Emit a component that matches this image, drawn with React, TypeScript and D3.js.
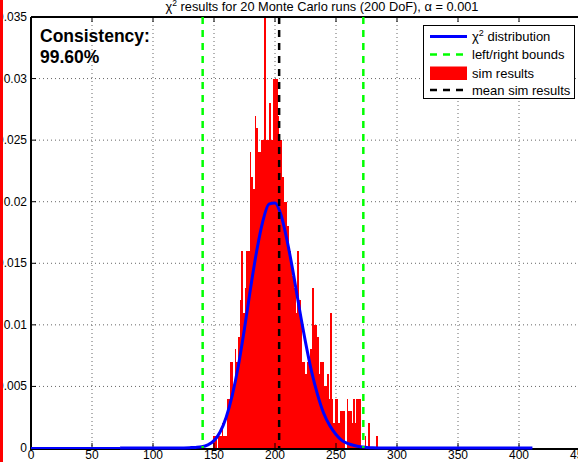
import React from 'react';
import * as d3 from 'd3';

const W = 578;
const H = 462;

// Axis extents (data units)
const xDomain = [0, 450];
const yDomain = [0, 0.035];

const xTickValues = [0, 50, 100, 150, 200, 250, 300, 350, 400, 450];
const yTickValues = [0, 0.005, 0.01, 0.015, 0.02, 0.025, 0.03, 0.035];
const yTickLabels = ['0', '0.005', '0.01', '0.015', '0.02', '0.025', '0.03', '0.035'];

// Histogram of simulated chi-square values (normalised density per bin)
const binStart = 149.5;
const binWidth = 1.348;
const simDensity = [
  0.001, 0.001, 0, 0.001, 0.001, 0.002, 0.001, 0.001, 0.004, 0.004,
  0.007, 0.007, 0.005, 0.008, 0.007, 0.009, 0.012, 0.016, 0.011, 0.013,
  0.016, 0.016, 0.024, 0.022, 0.021, 0.027, 0.026, 0.024, 0.024, 0.025,
  0.025, 0.035, 0.025, 0.025, 0.028, 0.025, 0.030, 0.030, 0.030, 0.027,
  0.025, 0.025, 0.022, 0.020, 0.020, 0.018, 0.016, 0.015, 0.014, 0.013,
  0.011, 0.016, 0.012, 0.010, 0.007, 0.007, 0.006, 0.007, 0.007, 0.008,
  0.013, 0.010, 0.010, 0.009, 0.006, 0.007, 0.007, 0.005, 0.005, 0.006,
  0.004, 0.011, 0.004, 0.002, 0.004, 0.004, 0.002, 0.003, 0.003, 0.003,
  0, 0.004, 0.003, 0.003, 0.002, 0.004, 0.002, 0.004, 0.004, 0.004,
  0, 0, 0.001, 0, 0.002, 0, 0, 0, 0, 0.001,
];

// Theoretical chi-square pdf (200 DoF)
const pdfX = [73, 100, 120, 130, 135, 140, 145, 150, 155, 160, 165, 170, 175, 180, 185, 190, 195, 200, 205, 210, 215, 220, 225, 230, 235, 240, 245, 250, 255, 260, 265, 270, 275, 280, 290, 300, 411];
const pdfY = [0, 0, 0.00001, 0.00003, 0.00005, 0.0001, 0.00026, 0.0006, 0.0013, 0.0025, 0.0043, 0.0067, 0.0097, 0.013, 0.016, 0.0184, 0.0198, 0.0199, 0.0189, 0.0168, 0.0142, 0.0113, 0.0086, 0.0062, 0.0043, 0.0028, 0.0018, 0.0011, 0.0006, 0.00035, 0.0002, 0.0001, 0.00005, 0.00002, 0, 0, 0];
const pdfTailStart = 0;

const boundLeft = 140.7;
const boundRight = 272.4;
const meanSim = 203.4;
const consistencyLabel = 'Consistency:';
const consistencyValue = '99.60%';

const legendItems = ['distribution', 'left/right bounds', 'sim results', 'mean sim results'];

const FONT = '"Liberation Sans", Arial, Helvetica, sans-serif';

export default function App() {
  const x = d3.scaleLinear().domain(xDomain).range([31, 580]);
  const y = d3.scaleLinear().domain(yDomain).range([448, 17]);
  const left = x.range()[0];
  const right = x.range()[1];
  const top = y.range()[1];
  const bottom = y.range()[0];

  const pdfPts: [number, number][] = pdfX.map((v, i) => [v, pdfY[i]]);
  const pdfLine = d3
    .line<[number, number]>()
    .x((d) => x(d[0]))
    .y((d) => y(d[1]))
    .curve(d3.curveMonotoneX);

  const dash = '7 6';

  return (
    <div style={{ position: 'absolute', left: 0, top: 0 }}>
      <svg width={W} height={H} style={{ display: 'block', fontFamily: FONT }}>
        <rect x={0} y={0} width={W} height={H} fill="#fff" />

        {/* grid */}
        <g stroke="#666" strokeWidth={1} strokeDasharray="1 3">
          {xTickValues
            .filter((v) => v > xDomain[0] && v < xDomain[1])
            .map((v) => (
              <line key={'gx' + v} x1={x(v)} x2={x(v)} y1={top} y2={bottom} />
            ))}
          {yTickValues
            .filter((v) => v > yDomain[0] && v < yDomain[1])
            .map((v) => (
              <line key={'gy' + v} x1={left} x2={right} y1={y(v)} y2={y(v)} />
            ))}
        </g>

        {/* histogram bars */}
        <g fill="#ff0000" shapeRendering="crispEdges">
          {simDensity.map((d, i) => {
            if (d <= 0) return null;
            const lo = binStart + i * binWidth;
            const hi = lo + binWidth;
            const yt = y(Math.min(d, yDomain[1]));
            return (
              <rect key={'b' + i} x={x(lo)} width={x(hi) - x(lo)} y={yt} height={bottom - yt} />
            );
          })}
        </g>

        {/* axes box */}
        <g stroke="#000" strokeWidth={2} fill="none">
          <line x1={left} x2={right + 2} y1={bottom + 1} y2={bottom + 1} />
          <line x1={left} x2={right + 2} y1={top} y2={top} />
          <line x1={left} x2={left} y1={top} y2={bottom + 2} />
        </g>
        <g stroke="#000" strokeWidth={1}>
          {xTickValues.map((v) => (
            <g key={'tx' + v}>
              <line x1={x(v)} x2={x(v)} y1={bottom} y2={bottom - 5} />
              <line x1={x(v)} x2={x(v)} y1={top} y2={top + 5} />
            </g>
          ))}
          {yTickValues.map((v) => (
            <line key={'ty' + v} x1={left} x2={left + 5} y1={y(v)} y2={y(v)} />
          ))}
        </g>

        {/* chi-square pdf */}
        <line
          x1={x(pdfTailStart)}
          x2={x(pdfX[0])}
          y1={y(0)}
          y2={y(0)}
          stroke="#0000ff"
          strokeWidth={2}
        />
        <path d={pdfLine(pdfPts) || ''} fill="none" stroke="#0000ff" strokeWidth={3} />

        {/* bounds and mean */}
        <g strokeWidth={2.5} strokeDasharray={dash}>
          <line x1={x(boundLeft)} x2={x(boundLeft)} y1={top} y2={bottom} stroke="#00ff00" />
          <line x1={x(boundRight)} x2={x(boundRight)} y1={top} y2={bottom} stroke="#00ff00" />
          <line x1={x(meanSim)} x2={x(meanSim)} y1={top} y2={bottom} stroke="#000" />
        </g>

        {/* tick labels */}
        <g fontSize={12} fill="#000">
          {xTickValues.map((v) => (
            <text key={'lx' + v} x={x(v)} y={459} textAnchor="middle">
              {v}
            </text>
          ))}
          {yTickValues.map((v, i) => (
            <text key={'ly' + v} x={27} y={y(v) + 4} textAnchor="end">
              {yTickLabels[i]}
            </text>
          ))}
        </g>

        {/* title */}
        <text x={322} y={11} fontSize={12.8} textAnchor="middle" fill="#000">
          χ<tspan dy={-5} fontSize={8.5}>2</tspan>
          <tspan dy={5}> results for 20 Monte Carlo runs (200 DoF), α = 0.001</tspan>
        </text>

        {/* consistency annotation */}
        <g fontSize={17.5} fontWeight="bold" fill="#000">
          <text x={40} y={42}>{consistencyLabel}</text>
          <text x={40} y={63}>{consistencyValue}</text>
        </g>

        {/* legend */}
        <g>
          <rect x={423.5} y={25.5} width={151} height={73} fill="#fff" stroke="#000" strokeWidth={1} />
          <line x1={430} x2={467} y1={36.5} y2={36.5} stroke="#0000ff" strokeWidth={3} />
          <line x1={430} x2={467} y1={54.5} y2={54.5} stroke="#00ff00" strokeWidth={2.5} strokeDasharray={dash} />
          <rect x={430} y={66.5} width={37} height={13.5} fill="#ff0000" />
          <line x1={430} x2={467} y1={90} y2={90} stroke="#000" strokeWidth={2.5} strokeDasharray={dash} />
          <g fontSize={13} fill="#000">
            <text x={472} y={41}>
              χ<tspan dy={-5} fontSize={9}>2</tspan>
              <tspan dy={5}> {legendItems[0]}</tspan>
            </text>
            <text x={472} y={59}>{legendItems[1]}</text>
            <text x={472} y={78}>{legendItems[2]}</text>
            <text x={472} y={95}>{legendItems[3]}</text>
          </g>
        </g>

        {/* left edge strip */}
        <rect x={0} y={0} width={3} height={H} fill="#ff0000" />
      </svg>
    </div>
  );
}
